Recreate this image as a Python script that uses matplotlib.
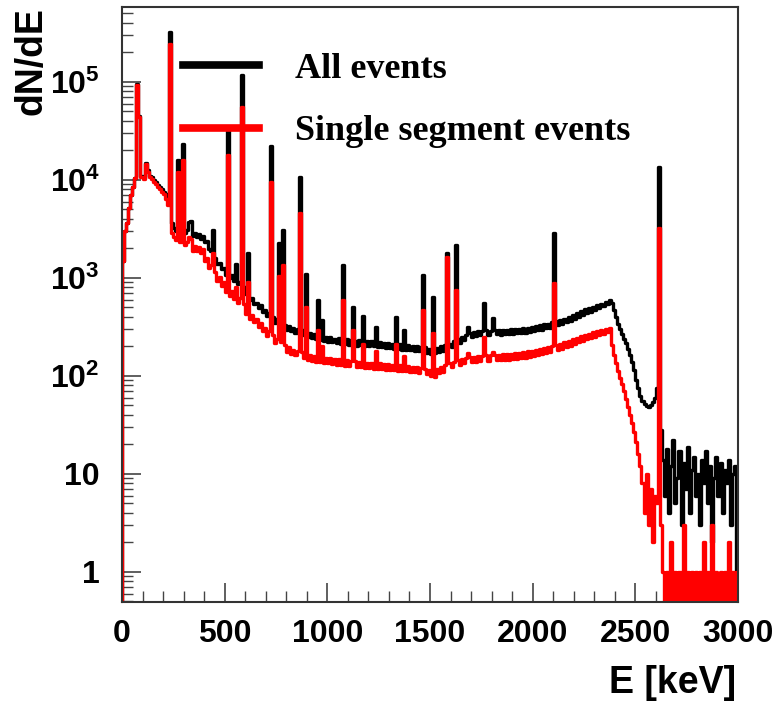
import numpy as np
import matplotlib
matplotlib.use("Agg")
import matplotlib.pyplot as plt
from matplotlib.lines import Line2D
from matplotlib.ticker import MultipleLocator, LogLocator, FuncFormatter, NullFormatter

plt.rcParams['font.family'] = ['Liberation Sans', 'DejaVu Sans']
plt.rcParams['mathtext.fontset'] = 'custom'
plt.rcParams['mathtext.rm'] = 'Liberation Sans:bold'
plt.rcParams['mathtext.it'] = 'Liberation Sans:bold'
plt.rcParams['mathtext.bf'] = 'Liberation Sans:bold'

# continuum, 10 keV bins from 0 to 3000 keV
bin_width = 10
all_cont = [
    1500, 3000, 3600, 5200, 7000, 8500, 10500, 12000, 11500, 11000,
    10500, 15000, 12500, 11000, 10800, 10000, 9600, 8800, 8500, 8100,
    7600, 7100, 6700, 6300, 3600, 3200, 3000, 2950, 3050, 2900,
    2850, 3100, 2750, 3000, 2650, 2900, 2600, 2800, 2500, 2650,
    2300, 2400, 1950, 1900, 1600, 1580, 1400, 1420, 1220, 1250,
    1080, 1150, 990, 1060, 920, 980, 860, 900, 780, 800,
    680, 700, 600, 630, 540, 560, 490, 525, 450, 470,
    410, 440, 385, 400, 350, 378, 330, 352, 312, 330,
    295, 322, 288, 305, 275, 302, 268, 292, 262, 280,
    252, 277, 246, 268, 240, 262, 232, 256, 229, 250,
    222, 247, 220, 240, 216, 242, 213, 236, 212, 238,
    208, 235, 210, 229, 204, 231, 205, 226, 203, 228,
    200, 226, 201, 220, 197, 222, 196, 216, 193, 217,
    191, 214, 190, 210, 187, 211, 186, 206, 185, 207,
    184, 204, 181, 201, 180, 198, 175, 196, 172, 190,
    168, 188, 171, 194, 176, 201, 181, 208, 191, 214,
    196, 226, 205, 238, 219, 249, 230, 263, 239, 271,
    250, 281, 254, 284, 259, 289, 258, 291, 263, 290,
    261, 293, 265, 292, 264, 297, 267, 295, 268, 299,
    270, 301, 273, 300, 276, 306, 277, 311, 283, 314,
    287, 323, 293, 327, 297, 336, 305, 341, 311, 351,
    318, 361, 327, 373, 339, 384, 351, 401, 364, 416,
    383, 434, 401, 456, 417, 476, 436, 491, 451, 509,
    468, 529, 491, 547, 511, 571, 539, 600, 560, 470,
    400, 340, 300, 265, 240, 215, 190, 165, 140, 115,
    90, 75, 62, 56, 52, 49, 48, 50, 54, 60,
    75, 110, 28, 14, 6, 18, 4, 12, 22, 5,
    9, 17, 3, 13, 7, 19, 4, 11, 15, 6,
    10, 3, 14, 8, 17, 5, 12, 2, 9, 15,
    6, 13, 4, 11, 8, 14, 3, 10, 12, 1,
]
single_cont = [
    1500, 3000, 3600, 5200, 7000, 8500, 10500, 11800, 11200, 10800,
    10200, 14500, 12000, 10600, 10300, 9600, 9100, 8400, 8000, 7600,
    7100, 6400, 5600, 5000, 2900, 2600, 2450, 2350, 2300, 2250,
    2150, 2300, 2050, 2200, 1900, 2100, 1900, 2050, 1800, 1950,
    1500, 1600, 1250, 1350, 1050, 1150, 930, 1020, 830, 900,
    720, 790, 660, 740, 610, 680, 560, 620, 500, 540,
    430, 470, 385, 420, 355, 385, 315, 345, 285, 305,
    255, 285, 232, 260, 215, 238, 198, 220, 186, 205,
    176, 195, 168, 186, 162, 180, 156, 174, 152, 168,
    146, 164, 142, 160, 140, 158, 138, 156, 136, 154,
    134, 152, 132, 150, 130, 148, 128, 146, 127, 144,
    126, 143, 125, 141, 124, 140, 122, 139, 121, 137,
    120, 136, 119, 135, 118, 134, 117, 132, 116, 131,
    115, 130, 114, 129, 113, 128, 112, 126, 111, 125,
    110, 124, 109, 122, 108, 120, 106, 118, 104, 116,
    100, 116, 98, 118, 106, 124, 110, 128, 116, 134,
    122, 140, 126, 144, 130, 148, 134, 152, 136, 155,
    138, 157, 140, 160, 141, 161, 142, 162, 143, 163,
    143, 164, 144, 165, 145, 166, 146, 167, 147, 168,
    148, 170, 150, 172, 152, 175, 154, 178, 156, 180,
    160, 184, 163, 188, 166, 192, 170, 196, 174, 200,
    178, 206, 184, 212, 190, 220, 196, 228, 204, 236,
    212, 245, 220, 254, 228, 262, 236, 270, 244, 278,
    252, 286, 260, 294, 268, 300, 278, 310, 205, 165,
    135, 112, 95, 82, 70, 58, 48, 40, 33, 27,
    21, 16, 12, 8, 4, 10, 3, 7, 2, 6,
    5, 9, 3, 1, 0, 1, 0, 2, 0, 1,
    0, 1, 0, 3, 0, 1, 0, 1, 0, 1,
    0, 1, 0, 2, 0, 1, 0, 3, 0, 1,
    0, 1, 0, 1, 0, 2, 0, 1, 0, 1,
]

# gamma lines: energy [keV], height all events, height single segment events
peak_e = [75, 87, 238, 278, 299, 328, 338, 448, 511, 550, 583, 610, 727, 763, 785,
          860, 893, 952, 970, 1078, 1120, 1170, 1238, 1330, 1377, 1460, 1510,
          1588, 1621, 1680, 1764, 1800, 2104, 2614]
peak_all = [95000, 45000, 320000, 16000, 23000, 3700, 3800, 3100, 35000, 1400, 118000,
            1800, 22000, 2250, 3100, 10700, 1100, 600, 370, 1340, 510, 410, 316,
            400, 295, 1070, 640, 1780, 2180, 316, 550, 390, 2850, 13600]
peak_single = [93000, 44000, 245000, 12000, 16000, 2600, 2500, 1800, 18000, 800, 56000,
               900, 9600, 1050, 1350, 4600, 510, 295, 200, 600, 295, 210, 180,
               210, 160, 470, 275, 1650, 760, 170, 250, 175, 890, 3200]

edges = np.arange(0, 3000 + bin_width, bin_width)
all_counts = np.array(all_cont, dtype=float)
single_counts = np.array(single_cont, dtype=float)
for e, a, s in zip(peak_e, peak_all, peak_single):
    i = int(e // bin_width)
    all_counts[i] = max(all_counts[i], a)
    single_counts[i] = max(single_counts[i], s)


def draw_hist(ax, counts, color, label):
    # step outline like a ROOT histogram, starting from the bottom at E=0
    x = np.concatenate([[edges[0]], edges])
    y = np.concatenate([[0], counts, [counts[-1]]])
    ax.step(x, y, where='post', color=color, lw=2.4, label=label)


fig = plt.figure(figsize=(7.77, 7.03), dpi=100)
ax = fig.add_axes([122 / 777, 1 - 602 / 703, 616 / 777, 595 / 703])
ax.set_yscale('log', nonpositive='clip')

draw_hist(ax, all_counts, 'black', 'All events')
draw_hist(ax, single_counts, '#ff0000', 'Single segment events')

ax.set_xlim(0, 3000)
ax.set_ylim(0.494, 5.8e5)

ax.xaxis.set_major_locator(MultipleLocator(500))
ax.xaxis.set_minor_locator(MultipleLocator(100))
ax.yaxis.set_major_locator(LogLocator(base=10))
ax.yaxis.set_minor_locator(LogLocator(base=10, subs=np.arange(2, 10)))
ax.yaxis.set_minor_formatter(NullFormatter())


def ylab(v, pos):
    if v < 5:
        return '1'
    if v < 50:
        return '10'
    return r'$10^{%d}$' % round(np.log10(v))


ax.yaxis.set_major_formatter(FuncFormatter(ylab))

ax.tick_params(which='both', direction='in', top=False, right=False, color='#444444')
ax.tick_params(which='major', length=14, width=1.2, labelsize=23)
ax.tick_params(which='minor', length=8, width=1.0)
ax.tick_params(axis='y', which='major', pad=16)
ax.tick_params(axis='x', which='major', pad=12)
for lab in ax.get_xticklabels() + ax.get_yticklabels():
    lab.set_fontweight('bold')

for sp in ax.spines.values():
    sp.set_color('#333333')
    sp.set_linewidth(1.5)

fig.text(736 / 777, 1 - 693 / 703, 'E [keV]', ha='right', va='baseline',
         fontsize=27, fontweight='bold')
fig.text(31 / 777, 1 - 7 / 703, 'dN/dE', ha='center', va='top', rotation=90,
         fontsize=27, fontweight='bold')

handles = [Line2D([], [], color='black', lw=5.5),
           Line2D([], [], color='#ff0000', lw=5.5)]
leg = ax.legend(handles, ['All events', 'Single segment events'],
                loc='upper left', bbox_to_anchor=(0.099, 0.923), frameon=False,
                borderpad=0, borderaxespad=0, handlelength=2.1, handletextpad=1.0,
                labelspacing=0.8,
                prop={'family': 'Liberation Serif', 'weight': 'bold', 'size': 26})

fig.savefig('out.png', dpi=100)
